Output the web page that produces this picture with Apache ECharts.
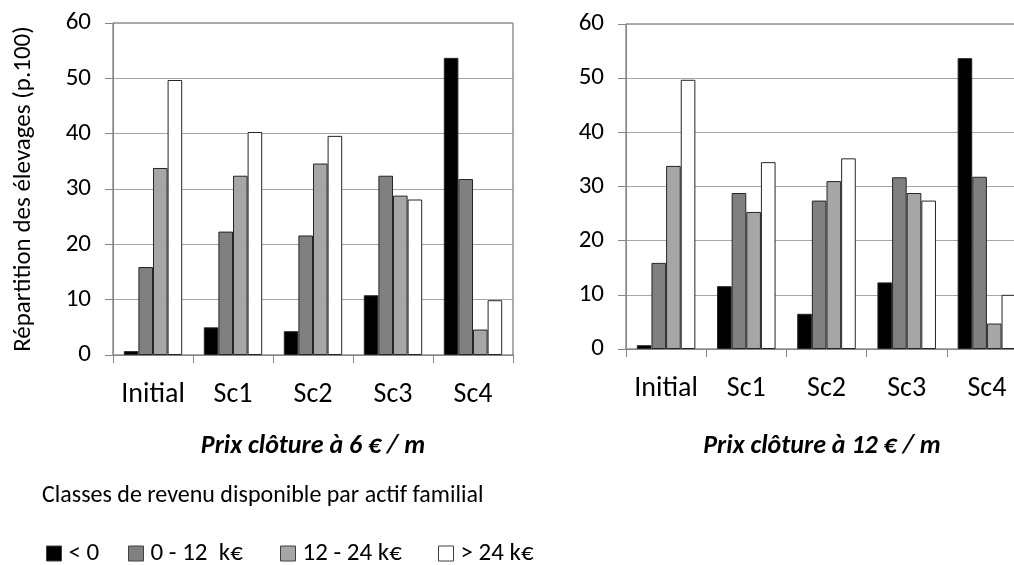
<!DOCTYPE html>
<html>
<head>
<meta charset="utf-8">
<script src="https://cdn.jsdelivr.net/npm/echarts@6/dist/echarts.min.js"></script>
<style>html,body{margin:0;padding:0;background:#fff;overflow:hidden}#c{width:1040px;height:565px}</style>
</head>
<body>
<div id="c"></div>
<script>
var categories = ['Initial', 'Sc1', 'Sc2', 'Sc3', 'Sc4'];
var classNames = ['< 0', '0 - 12  k\u20ac', '12 - 24 k\u20ac', '> 24 k\u20ac'];
var yTicks = [0, 10, 20, 30, 40, 50, 60];
// Prix clôture à 6 € / m
var p6_lt0   = [0.7, 5.0, 4.3, 10.8, 53.7];
var p6_0_12  = [15.9, 22.3, 21.6, 32.4, 31.8];
var p6_12_24 = [33.8, 32.4, 34.6, 28.8, 4.6];
var p6_gt24  = [49.7, 40.3, 39.6, 28.1, 9.9];
// Prix clôture à 12 € / m
var p12_lt0   = [0.7, 11.6, 6.5, 12.3, 53.7];
var p12_0_12  = [15.9, 28.8, 27.4, 31.7, 31.8];
var p12_12_24 = [33.8, 25.3, 31.0, 28.8, 4.7];
var p12_gt24  = [49.7, 34.5, 35.2, 27.4, 10.0];

var FONT = 'Carlito, Lato, sans-serif';
var colors = ['#000000', '#808080', '#a6a6a6', '#ffffff'];

function xAxis(gi, name, gap, pad) {
  return {
    type: 'category', gridIndex: gi, data: categories,
    name: name, nameLocation: 'middle', nameGap: gap,
    nameTextStyle: {fontFamily: FONT, fontSize: 26, fontWeight: 'bold', fontStyle: 'italic', color: '#000', padding: pad},
    axisLine: {lineStyle: {color: '#868686', width: 1}},
    axisTick: {show: true, alignWithLabel: false, length: 8, lineStyle: {color: '#868686'}},
    axisLabel: {fontFamily: FONT, fontSize: 28, color: '#000', margin: 26, interval: 0},
    splitLine: {show: false}
  };
}
function yAxis(gi, name) {
  return {
    type: 'value', gridIndex: gi, min: yTicks[0], max: yTicks[yTicks.length - 1], interval: 10,
    name: name, nameLocation: 'middle', nameGap: 77, nameRotate: 90,
    nameTextStyle: {fontFamily: FONT, fontSize: 25, color: '#000'},
    axisLine: {show: true, lineStyle: {color: '#868686', width: 1}},
    axisTick: {show: true, inside: false, length: 8, lineStyle: {color: '#868686'}},
    axisLabel: {fontFamily: FONT, fontSize: 25, color: '#000', margin: 22},
    splitLine: {show: true, lineStyle: {color: '#a6a6a6', width: 1}}
  };
}
function bars(gi, arrs) {
  return arrs.map(function (d, i) {
    return {
      type: 'bar', name: classNames[i], xAxisIndex: gi, yAxisIndex: gi, data: d,
      barGap: '0%', barCategoryGap: '27%',
      itemStyle: {color: colors[i], borderColor: '#262626', borderWidth: 1},
      emphasis: {disabled: true}, animation: false
    };
  });
}
function legend(i, left) {
  return {
    data: [classNames[i]], left: left, top: 541, icon: 'rect', padding: 0,
    itemWidth: 15, itemHeight: 15, itemGap: 0,
    itemStyle: {borderColor: '#404040', borderWidth: 1},
    textStyle: {fontFamily: FONT, fontSize: 25, color: '#000', padding: [0, 0, 0, 2]}
  };
}

var chart = echarts.init(document.getElementById('c'), null, {renderer: 'canvas', width: 1040, height: 565});
chart.setOption({
  animation: false,
  grid: [
    {left: 113, top: 23, width: 400, height: 332, show: true, borderColor: '#595959', borderWidth: 1, backgroundColor: 'transparent'},
    {left: 626, top: 24, width: 401, height: 325, show: true, borderColor: '#595959', borderWidth: 1, backgroundColor: 'transparent'}
  ],
  xAxis: [xAxis(0, 'Prix cl\u00f4ture \u00e0 6 \u20ac / m', 78, [0, 0, 0, 0]), xAxis(1, 'Prix cl\u00f4ture \u00e0 12 \u20ac / m', 84, [0, 9, 0, 0])],
  yAxis: [yAxis(0, 'R\u00e9partition des \u00e9levages (p.100)'), yAxis(1, '')],
  legend: [legend(0, 46), legend(1, 128), legend(2, 280), legend(3, 438)],
  graphic: [{
    type: 'text', left: 42, top: 484,
    style: {text: 'Classes de revenu disponible par actif familial', fontFamily: FONT, fontSize: 24, fill: '#000'}
  }],
  series: bars(0, [p6_lt0, p6_0_12, p6_12_24, p6_gt24]).concat(bars(1, [p12_lt0, p12_0_12, p12_12_24, p12_gt24]))
});
</script>
</body>
</html>
